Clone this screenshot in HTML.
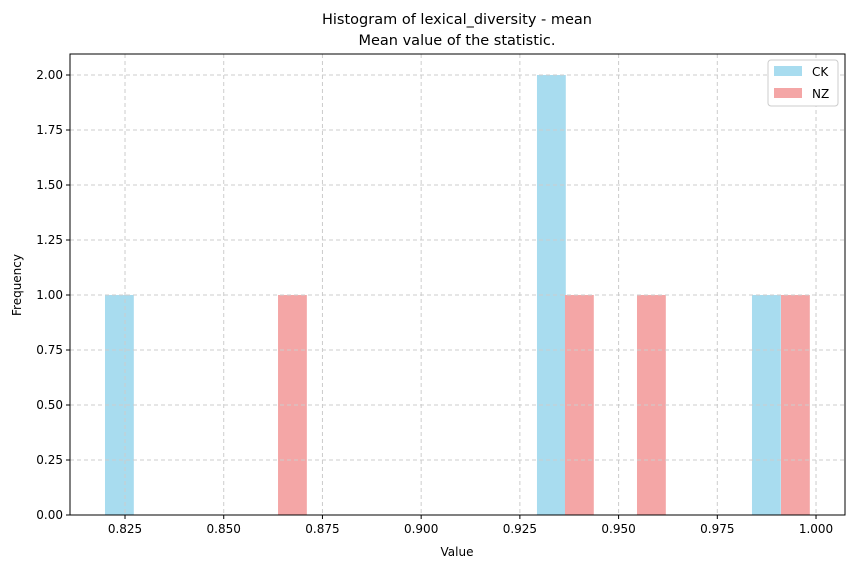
<!DOCTYPE html>
<html><head><meta charset="utf-8"><style>
body{margin:0;background:#fff;font-family:"Liberation Sans","DejaVu Sans",sans-serif;}
svg text{font-family:"DejaVu Sans","Liberation Sans",sans-serif;}
</style></head><body>
<svg id="chart" width="855" height="568" xmlns="http://www.w3.org/2000/svg">
<rect width="855" height="568" fill="#fff"/>
<g id="bars"></g><g id="grid"></g><g id="axes"></g>
<text x="457" y="24" text-anchor="middle" font-size="14.5">Histogram of lexical_diversity - mean</text>
<text x="457" y="45" text-anchor="middle" font-size="14.5">Mean value of the statistic.</text>
<text x="457" y="556" text-anchor="middle" font-size="12">Value</text>
<text transform="translate(21,285) rotate(-90)" text-anchor="middle" font-size="12">Frequency</text>
<g>
<rect x="768" y="60" width="70" height="46" fill="#fff" stroke="#ccc" rx="3"/>
<rect x="774" y="66" width="28" height="10" fill="#a8dcef"/>
<text x="812" y="76" font-size="12">CK</text>
<rect x="774" y="88" width="28" height="10" fill="#f4a6a6"/>
<text x="812" y="98" font-size="12">NZ</text>
</g>
</svg>
<script>
const xTicks=[0.825,0.85,0.875,0.9,0.925,0.95,0.975,1.0];
const xTickLabels=["0.825","0.850","0.875","0.900","0.925","0.950","0.975","1.000"];
const yTicks=[0,0.25,0.5,0.75,1,1.25,1.5,1.75,2];
const yTickLabels=["0.00","0.25","0.50","0.75","1.00","1.25","1.50","1.75","2.00"];
const ckStarts=[0.81993,0.92933,0.98378];
const ckCounts=[1,2,1];
const nzStarts=[0.86375,0.93642,0.95466,0.99113];
const nzCounts=[1,1,1,1];
const binWidth=0.0073;
const L=70,R=845,T=54,B=515;
const X=v=>26.3+(v-0.8)*3948.6;
const Y=v=>515-v*220;
const NS="http://www.w3.org/2000/svg";
function mk(tag,attrs,parent,txt){const e=document.createElementNS(NS,tag);for(const k in attrs)e.setAttribute(k,attrs[k]);if(txt!==undefined)e.textContent=txt;document.getElementById(parent).appendChild(e);return e;}
xTicks.forEach((t,i)=>{
 const g=mk('line',{x1:X(t),x2:X(t),y1:T,y2:B,stroke:'#ccc','stroke-dasharray':'4,3'},'grid');
 
 
 const k=mk('line',{x1:X(t),x2:X(t),y1:B,y2:B+4,stroke:'#000'},'axes');
 
 
 const l=mk('text',{x:X(t),y:B+18,'text-anchor':'middle','font-size':'12'},'axes',xTickLabels[i]);
 
 
});
yTicks.forEach((t,i)=>{
 const g=mk('line',{x1:L,x2:R,y1:Y(t),y2:Y(t),stroke:'#ccc','stroke-dasharray':'4,3'},'grid');
 
 
 const k=mk('line',{x1:L-4,x2:L,y1:Y(t),y2:Y(t),stroke:'#000'},'axes');
 
 
 const l=mk('text',{x:L-7,y:Y(t)+4,'text-anchor':'end','font-size':'12'},'axes',yTickLabels[i]);
 
 
});
function bars(starts,counts,color,name){
 starts.forEach((s,i)=>{
  const r=mk('rect',{x:X(s),y:Y(counts[i]),width:X(s+binWidth)-X(s),height:Y(0)-Y(counts[i]),fill:color},'bars');
  
  
 });
}
bars(ckStarts,ckCounts,'#a8dcef','ck');
bars(nzStarts,nzCounts,'#f4a6a6','nz');
const f=mk('rect',{x:L,y:T,width:R-L,height:B-T,fill:'none',stroke:'#000'},'axes');


</script>
</body></html>
